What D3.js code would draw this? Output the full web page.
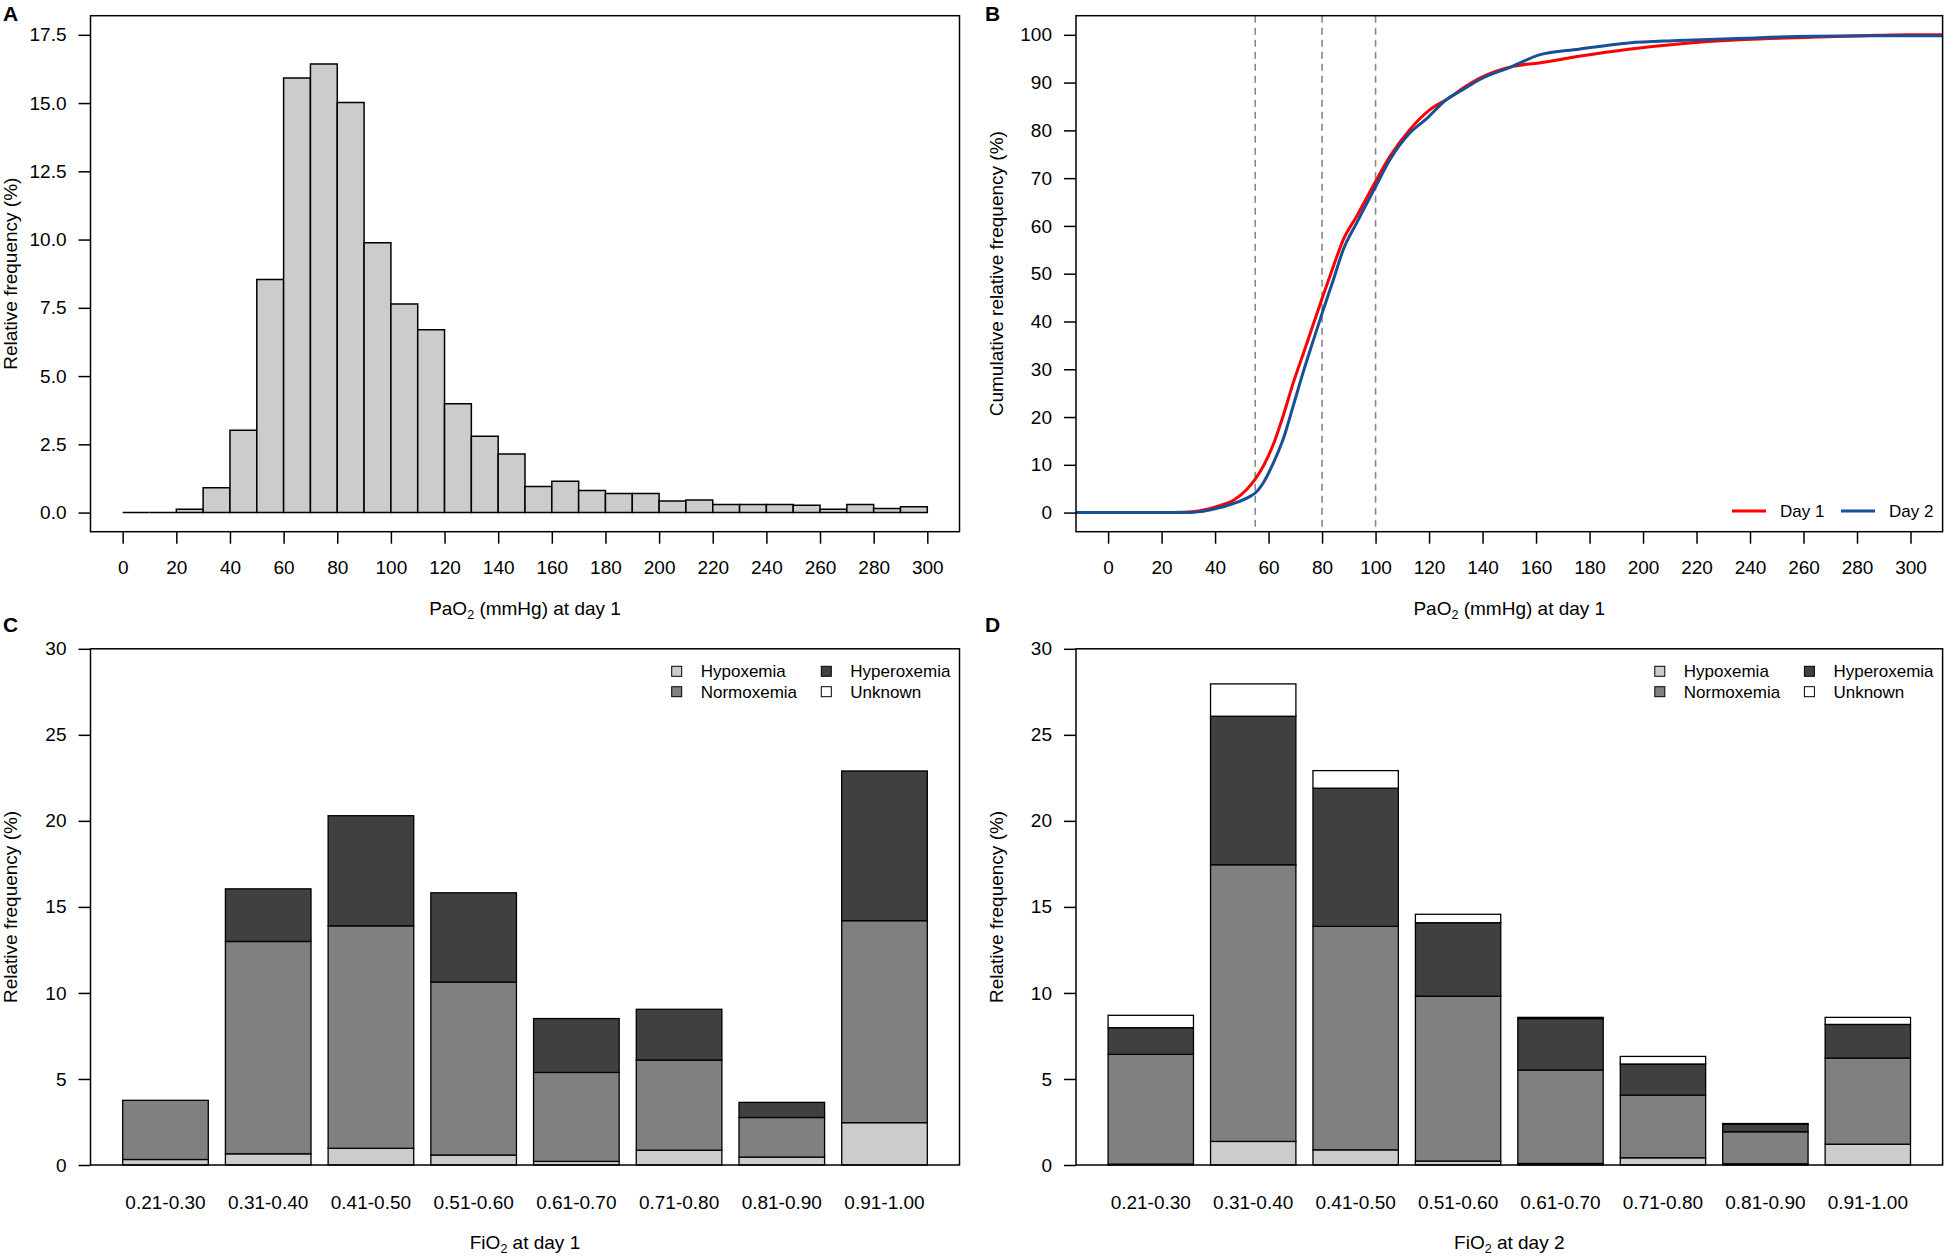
<!DOCTYPE html>
<html lang="en">
  <head>
    <meta charset="UTF-8" />
    <title>PaO2 and FiO2 distributions</title>
    <style>
      body { margin: 0; background: #fff; }
      svg text { font-family: "Liberation Sans", Arial, sans-serif; fill: #000; }
    </style>
  </head>
  <body>
    <svg width="1946" height="1256"></svg>

    <script src="https://d3js.org/d3.v7.min.js"></script>
    <script>
      // ---- data ----
      // A: histogram of PaO2 at day 1, 10 mmHg bins from 0 to 300
      const binStart = d3.range(0, 300, 10);
      const histFreq = [0, 0, 0.12, 0.91, 3.02, 8.54, 15.92, 16.43, 15.02, 9.88,
        7.64, 6.7, 3.99, 2.8, 2.15, 0.96, 1.15, 0.81, 0.7, 0.7,
        0.42, 0.46, 0.3, 0.3, 0.3, 0.27, 0.12, 0.3, 0.15, 0.21];

      // B: cumulative relative frequency, [PaO2, %]
      const ecdfDay1 = [[0, 0], [25, 0], [30, 0.1], [34.5, 0.4], [42, 1.5], [46.9, 2.6],
        [51.9, 4.9], [55, 7.0], [58.1, 9.8], [61.8, 14.3], [65.6, 20.5], [69.3, 27.3],
        [73, 33.3], [76.7, 39.4], [80, 44.8], [84.2, 51.5], [87.9, 57.1], [92.9, 62],
        [100, 69.3], [105.3, 74.5], [112.7, 80.1], [120.2, 84.3], [127.6, 86.8],
        [132.6, 88.8], [138.8, 90.9], [151.2, 93.4], [161.2, 94.1], [176, 95.5],
        [194.6, 97], [213.3, 98.1], [238.1, 99], [262.9, 99.5], [287.8, 99.9], [300, 100]];
      const ecdfDay2 = [[0, 0], [30, 0], [34.5, 0.2], [40, 0.8], [46.9, 1.9], [53.1, 3.4],
        [55, 4.1], [58.1, 6.3], [61.8, 10.4], [65.6, 15.6], [69.3, 22.5], [73, 29.5],
        [76.7, 36], [80, 41.7], [84.2, 48.7], [87.9, 55], [92.9, 60.6], [100, 68.2],
        [105.3, 73.8], [112.7, 79.4], [119, 82.4], [126.4, 86.4], [132.6, 88.5],
        [138.8, 90.6], [151.2, 93.4], [161.2, 95.8], [176, 97], [194.6, 98.3],
        [213.3, 98.8], [238.1, 99.3], [262.9, 99.7], [287.8, 99.8], [300, 99.8]];
      const cutoffs = [55, 80, 100];

      // C / D: FiO2 classes, stacked by oxygenation status (%)
      const fioCats = ["0.21-0.30", "0.31-0.40", "0.41-0.50", "0.51-0.60",
        "0.61-0.70", "0.71-0.80", "0.81-0.90", "0.91-1.00"];
      const statusKeys = ["Hypoxemia", "Normoxemia", "Hyperoxemia", "Unknown"];
      const statusColors = ["#cccccc", "#808080", "#404040", "#ffffff"];

      const day1Hypo = [0.32, 0.65, 0.97, 0.58, 0.21, 0.86, 0.46, 2.46];
      const day1Normo = [3.44, 12.34, 12.93, 10.05, 5.17, 5.24, 2.3, 11.74];
      const day1Hyper = [0, 3.06, 6.4, 5.19, 3.13, 2.95, 0.88, 8.7];
      const day1Unknown = [0, 0, 0, 0, 0, 0, 0, 0];

      const day2Hypo = [0.05, 1.37, 0.88, 0.23, 0.09, 0.42, 0.07, 1.21];
      const day2Normo = [6.38, 16.08, 12.99, 9.58, 5.43, 3.64, 1.86, 5.01];
      const day2Hyper = [1.55, 8.63, 8.03, 4.27, 2.99, 1.81, 0.44, 1.95];
      const day2Unknown = [0.72, 1.88, 1.02, 0.49, 0.07, 0.44, 0.04, 0.41];

      // ---- layout ----
      const svg = d3.select("svg");
      const FS = 19;
      const panels = {
        A: { l: 90.5, r: 959.5, t: 15.7, b: 531.7 },
        B: { l: 1076, r: 1942.6, t: 15.7, b: 531.7 },
        C: { l: 90.5, r: 959.5, t: 648.8, b: 1165 },
        D: { l: 1076, r: 1942.6, t: 648.8, b: 1165 },
      };

      const styleAxis = (g) => {
        g.select(".domain").remove();
        g.selectAll("line").attr("stroke", "#000").attr("stroke-width", 1.5);
        g.selectAll("text").attr("font-size", FS).attr("font-family", "Liberation Sans, Arial, sans-serif");
        g.attr("font-family", null).attr("font-size", null);
      };

      const drawBox = (p) => {
        svg.append("rect")
          .attr("x", p.l).attr("y", p.t)
          .attr("width", p.r - p.l).attr("height", p.b - p.t)
          .attr("fill", "none").attr("stroke", "#000").attr("stroke-width", 1.5);
      };

      const yTitle = (p, text) => {
        svg.append("text")
          .attr("transform", `translate(${p.l - 80},${(p.t + p.b) / 2}) rotate(-90)`)
          .attr("text-anchor", "middle").attr("dy", "0.35em")
          .attr("font-size", FS).text(text);
      };

      const xTitle = (p, pre, post) => {
        const t = svg.append("text")
          .attr("x", (p.l + p.r) / 2).attr("y", p.b + 77)
          .attr("text-anchor", "middle").attr("dy", "0.35em")
          .attr("font-size", FS);
        t.append("tspan").text(pre);
        t.append("tspan").attr("font-size", 12.5).attr("dy", 4).text("2");
        t.append("tspan").attr("dy", -4).text(post);
      };

      const panelLabel = (x, y, s) => {
        svg.append("text").attr("x", x).attr("y", y)
          .attr("font-size", 21).attr("font-weight", "bold").text(s);
      };

      const yAxis = (p, y, ticks, fmt) => {
        svg.append("g").attr("transform", `translate(${p.l},0)`)
          .call(d3.axisLeft(y).tickValues(ticks).tickFormat(fmt).tickSize(12).tickPadding(12))
          .call(styleAxis);
      };

      const xAxisPaO2 = (p, x) => {
        svg.append("g").attr("transform", `translate(0,${p.b})`)
          .call(d3.axisBottom(x).tickValues(d3.range(0, 301, 20)).tickSize(12).tickPadding(17))
          .call(styleAxis);
      };

      // ---- A: histogram ----
      {
        const p = panels.A;
        const x = d3.scaleLinear().domain([-12, 312]).range([p.l, p.r]);
        const y = d3.scaleLinear().domain([-0.7, 18.2]).range([p.b, p.t]);
        svg.append("g").selectAll("path")
          .data(binStart.map((s, i) => ({ s, f: histFreq[i] })))
          .join("path")
          .attr("d", (d) => `M${x(d.s)},${y(0)}V${y(d.f)}H${x(d.s + 10)}V${y(0)}Z`)
          .attr("fill", "#cccccc").attr("stroke", "#000").attr("stroke-width", 1.5)
          .attr("stroke-linejoin", "miter");
        drawBox(p);
        yAxis(p, y, d3.range(0, 17.6, 2.5), d3.format(".1f"));
        xAxisPaO2(p, x);
        yTitle(p, "Relative frequency (%)");
        xTitle(p, "PaO", " (mmHg) at day 1");
        panelLabel(3, 21, "A");
      }

      // ---- B: cumulative curves ----
      {
        const p = panels.B;
        const x = d3.scaleLinear().domain([-12, 312]).range([p.l, p.r]);
        const y = d3.scaleLinear().domain([-4, 104]).range([p.b, p.t]);
        svg.append("clipPath").attr("id", "clipB").append("rect")
          .attr("x", p.l).attr("y", p.t).attr("width", p.r - p.l).attr("height", p.b - p.t);

        svg.append("g").selectAll("line").data(cutoffs).join("line")
          .attr("x1", (d) => x(d)).attr("x2", (d) => x(d))
          .attr("y1", p.t).attr("y2", p.b)
          .attr("stroke", "#8a8a8a").attr("stroke-width", 1.6).attr("stroke-dasharray", "7,5");

        const line = d3.line().x((d) => x(d[0])).y((d) => y(d[1])).curve(d3.curveMonotoneX);
        const extend = (arr) => [[x.domain()[0], arr[0][1]], ...arr, [x.domain()[1], arr[arr.length - 1][1]]];
        const series = [
          { name: "Day 1", data: ecdfDay1, color: "#ff0000" },
          { name: "Day 2", data: ecdfDay2, color: "#184f96" },
        ];
        svg.append("g").attr("clip-path", "url(#clipB)")
          .selectAll("path").data(series).join("path")
          .attr("d", (d) => line(extend(d.data)))
          .attr("fill", "none").attr("stroke", (d) => d.color).attr("stroke-width", 3);

        drawBox(p);
        yAxis(p, y, d3.range(0, 101, 10), d3.format("d"));
        xAxisPaO2(p, x);
        yTitle(p, "Cumulative relative frequency (%)");
        xTitle(p, "PaO", " (mmHg) at day 1");
        panelLabel(985, 21, "B");

        // legend
        const lg = svg.append("g").attr("transform", `translate(${p.r},${p.b - 20.7})`);
        const items = lg.selectAll("g").data(series).join("g")
          .attr("transform", (d, i) => `translate(${i === 0 ? -210.6 : -101.6},0)`);
        items.append("line").attr("x1", 0).attr("x2", 34)
          .attr("stroke", (d) => d.color).attr("stroke-width", 3);
        items.append("text").attr("x", 48).attr("dy", "0.35em")
          .attr("font-size", 17).text((d) => d.name);
      }

      // ---- C / D: stacked bars ----
      const stackedPanel = (p, cols, day, label, lx) => {
        const rows = fioCats.map((c, i) => {
          const r = { cat: c };
          statusKeys.forEach((k, j) => (r[k] = cols[j][i]));
          return r;
        });
        const layers = d3.stack().keys(statusKeys)(rows);

        // R barplot: width 1, space 0.2, 4% padding around the bars
        const span = 9.4 * 1.08, step = 1.2, pIn = 0.2 / 1.2;
        const pOut = (span / step - fioCats.length + pIn) / 2;
        const x = d3.scaleBand().domain(fioCats).range([p.l, p.r])
          .paddingInner(pIn).paddingOuter(pOut);
        const y = d3.scaleLinear().domain([0, 30]).range([p.b, p.t]);

        svg.append("g").selectAll("g").data(layers).join("g")
          .attr("fill", (d, i) => statusColors[i])
          .selectAll("rect").data((d) => d.filter((s) => s[1] - s[0] > 0)).join("rect")
          .attr("x", (d) => x(d.data.cat))
          .attr("width", x.bandwidth())
          .attr("y", (d) => y(d[1]))
          .attr("height", (d) => y(d[0]) - y(d[1]))
          .attr("stroke", "#000").attr("stroke-width", 1.3);

        drawBox(p);
        yAxis(p, y, d3.range(0, 31, 5), d3.format("d"));

        svg.append("g").selectAll("text").data(fioCats).join("text")
          .attr("x", (d) => x(d) + x.bandwidth() / 2).attr("y", p.b + 37)
          .attr("text-anchor", "middle").attr("dy", "0.35em")
          .attr("font-size", FS).text((d) => d);

        yTitle(p, "Relative frequency (%)");
        xTitle(p, "FiO", ` at day ${day}`);
        panelLabel(lx, 632, label);

        // legend, two columns
        const lg = svg.append("g").attr("transform", `translate(${p.r},${p.t})`);
        const it = lg.selectAll("g").data(statusKeys).join("g")
          .attr("transform", (d, i) => `translate(${i < 2 ? -282.8 : -133.2},${i % 2 === 0 ? 22.5 : 42.9})`);
        it.append("rect").attr("x", -5).attr("y", -5).attr("width", 10).attr("height", 10)
          .attr("fill", (d, i) => statusColors[i]).attr("stroke", "#000").attr("stroke-width", 1);
        it.append("text").attr("x", 24).attr("dy", "0.35em")
          .attr("font-size", 17).text((d) => d);
      };

      stackedPanel(panels.C, [day1Hypo, day1Normo, day1Hyper, day1Unknown], 1, "C", 3);
      stackedPanel(panels.D, [day2Hypo, day2Normo, day2Hyper, day2Unknown], 2, "D", 985);
    </script>
  </body>
</html>
